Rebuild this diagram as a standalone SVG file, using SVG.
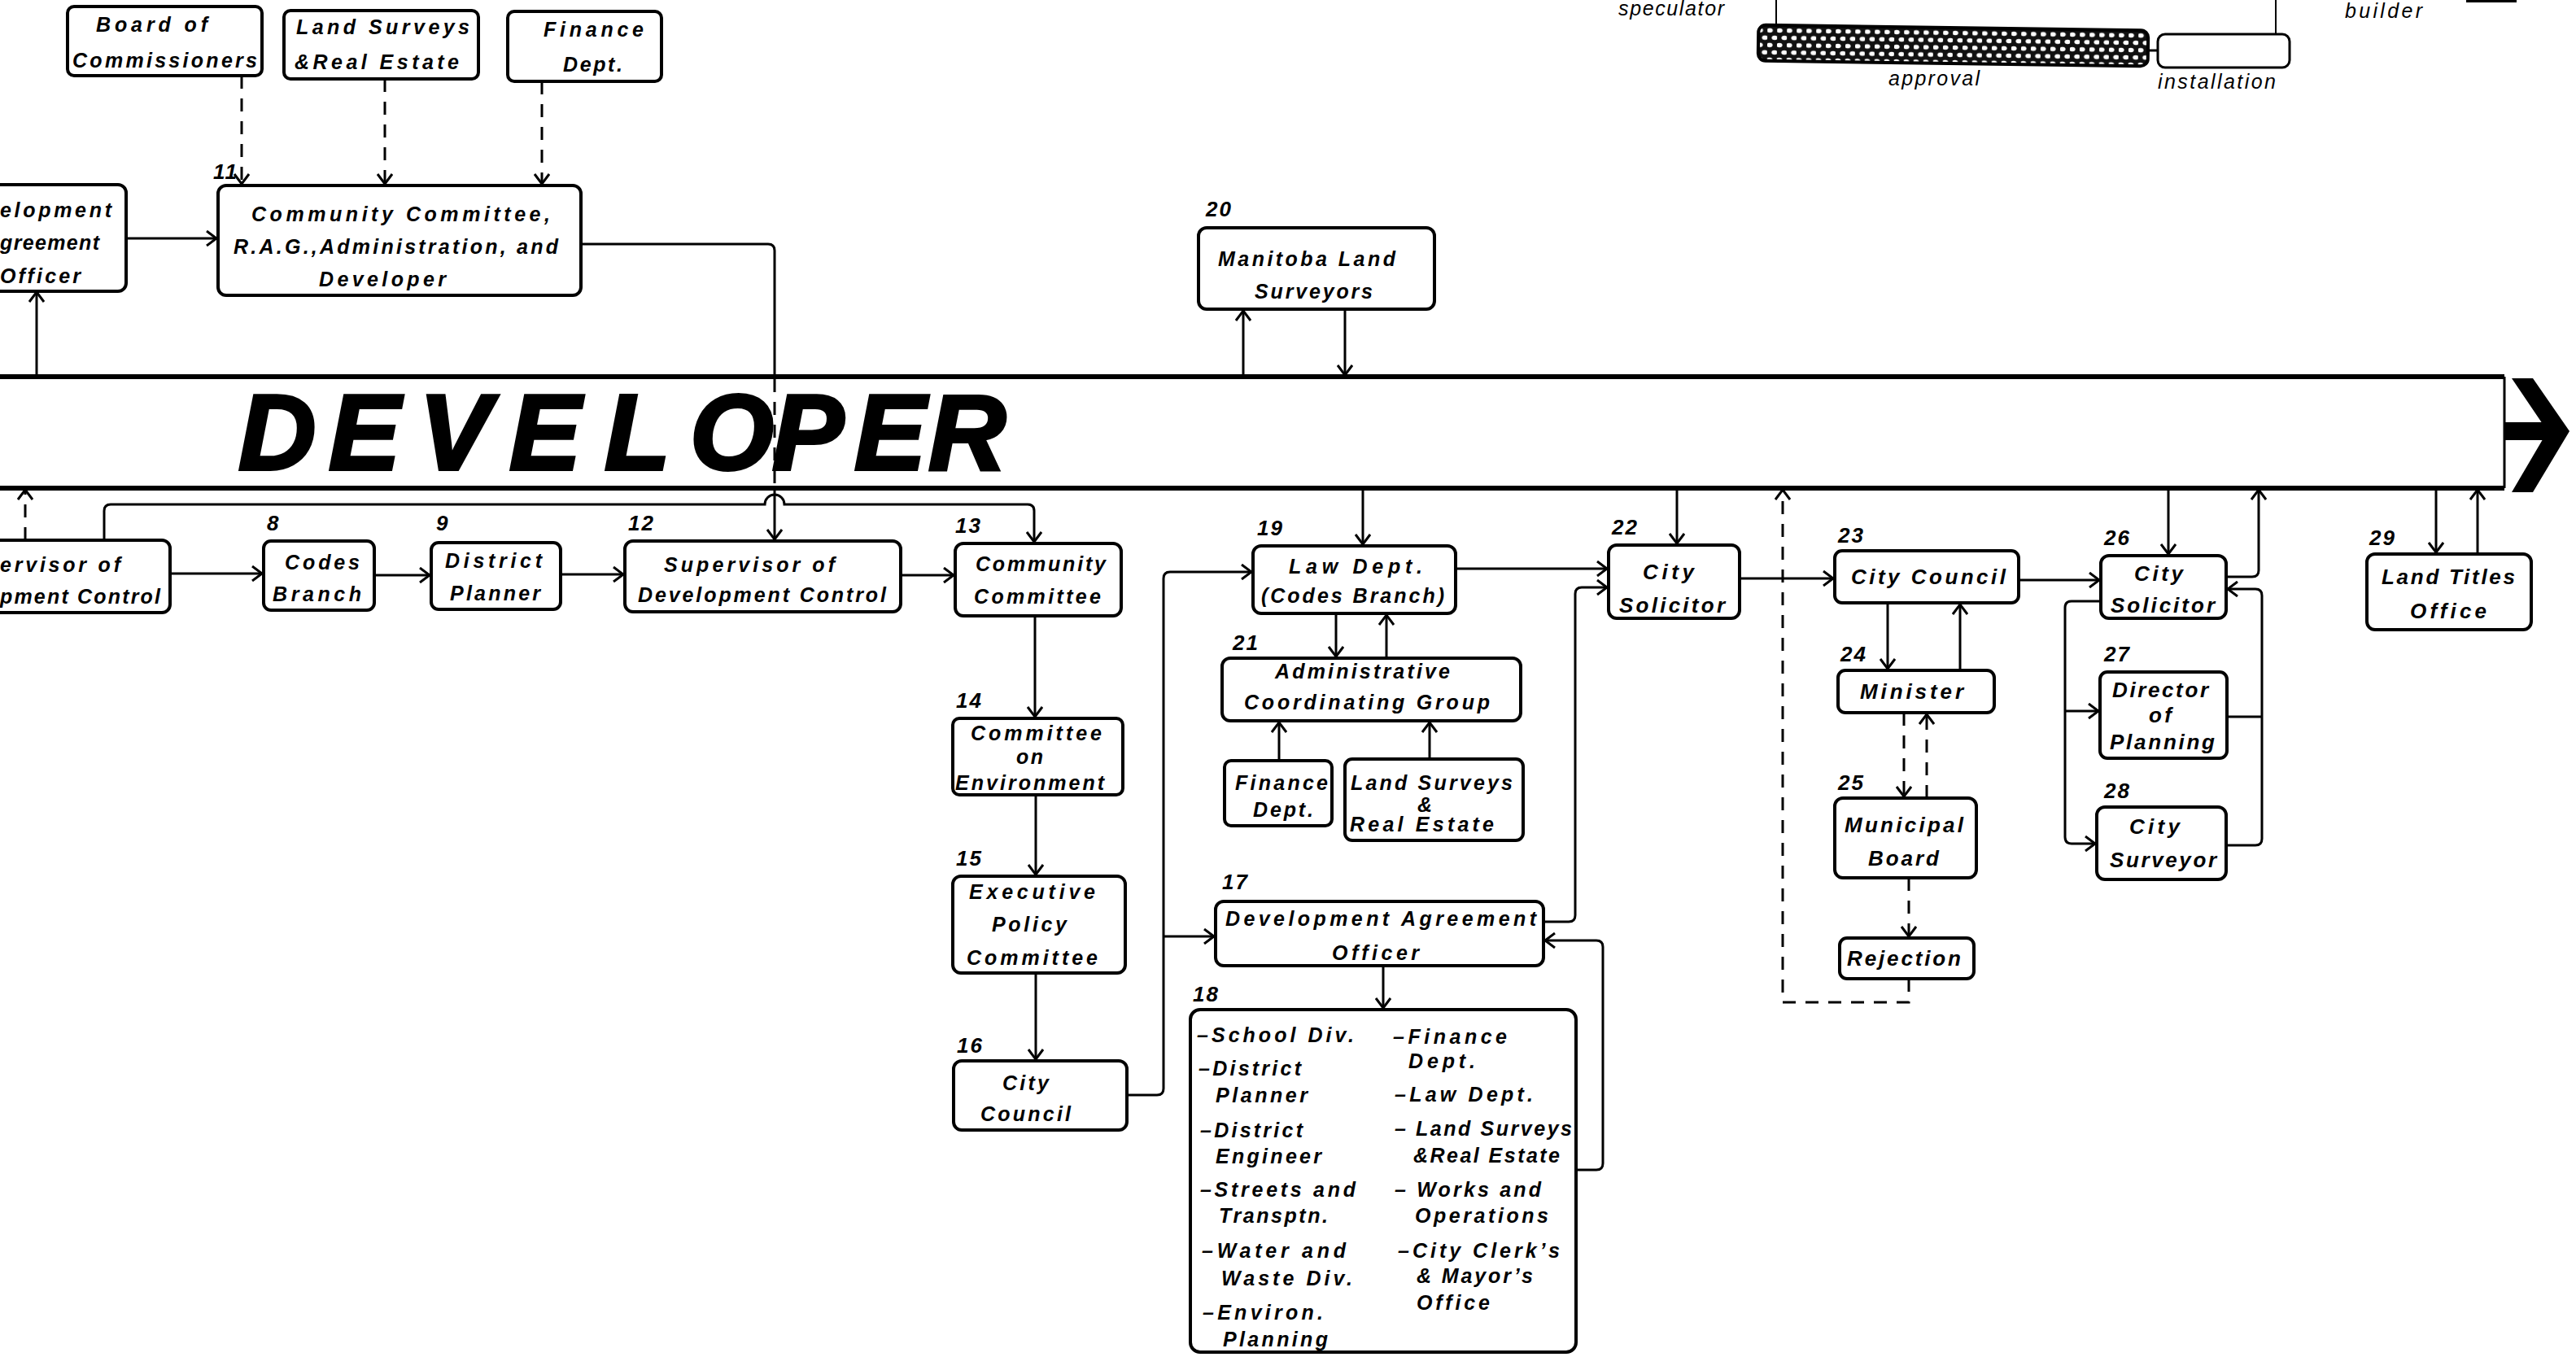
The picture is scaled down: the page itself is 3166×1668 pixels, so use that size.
<svg xmlns="http://www.w3.org/2000/svg" width="3166" height="1668" viewBox="0 0 3166 1668">
<style>
  .bx{fill:#fff;stroke:#000;stroke-width:4}
  .ln{fill:none;stroke:#000;stroke-width:3}
  .dsh{stroke-dasharray:16 12}
  .t{font-family:"Liberation Sans",Arial,sans-serif;font-style:italic;font-weight:bold;font-size:25px;fill:#000}
  .r{font-size:26px}
  .n{font-family:"Liberation Sans",Arial,sans-serif;font-style:italic;font-weight:bold;font-size:26px;letter-spacing:2px;fill:#000}
  .s{font-family:"Liberation Sans",Arial,sans-serif;font-style:italic;font-size:25px;fill:#000}
  .big{font-family:"Liberation Sans",Arial,sans-serif;font-style:italic;font-weight:bold;font-size:132px;fill:#000;stroke:#000;stroke-width:4}
</style>
<defs>
  <marker id="ah" viewBox="0 0 16 20" refX="13" refY="10" markerWidth="16" markerHeight="20" orient="auto" markerUnits="userSpaceOnUse">
    <path d="M1,1 L13,10 L1,19" fill="none" stroke="#000" stroke-width="3"/>
  </marker>
  <pattern id="dots" width="12" height="18" patternUnits="userSpaceOnUse">
    <rect width="12" height="18" fill="#111"/>
    <ellipse cx="3" cy="4.5" rx="3.6" ry="2.8" fill="#fff"/>
    <ellipse cx="9" cy="13.5" rx="3.6" ry="2.8" fill="#fff"/>
  </pattern>
</defs>
<rect width="3166" height="1668" fill="#fff"/>

<!-- timeline strip at the top right -->
<g id="timeline">
  <text class="s" x="1989" y="19" textLength="130">speculator</text>
  <line x1="2183" y1="0" x2="2183" y2="36" stroke="#000" stroke-width="2"/>
  <line x1="2797" y1="0" x2="2797" y2="43" stroke="#000" stroke-width="2"/>
  <rect x="2161" y="34" width="479" height="44" rx="9" fill="url(#dots)" stroke="#000" stroke-width="4" transform="rotate(0.8 2400 56)"/>
  <line x1="2640" y1="62" x2="2652" y2="62" stroke="#000" stroke-width="3"/>
  <rect x="2652" y="42" width="162" height="41" rx="9" fill="#fff" stroke="#000" stroke-width="3"/>
  <text class="s" x="2321" y="105" textLength="112">approval</text>
  <text class="s" x="2652" y="109" textLength="145">installation</text>
  <text class="s" x="2882" y="22" textLength="95">builder</text>
  <rect x="3031" y="0" width="62" height="3" fill="#000"/>
</g>

<!-- developer band -->
<g id="developer">
  <line x1="0" y1="463" x2="3078" y2="463" stroke="#000" stroke-width="6"/>
  <line x1="0" y1="600" x2="3078" y2="600" stroke="#000" stroke-width="6"/>
  <line x1="3078" y1="463" x2="3078" y2="600" stroke="#000" stroke-width="3"/>
  <rect x="3078" y="519" width="54" height="22" fill="#000"/>
  <polygon points="3087,465 3113,465 3158,530 3113,605 3087,605 3131,530" fill="#000"/>
  <text class="big" x="293 404 515 626 743 848 949 1050 1141" y="577">DEVELOPER</text>
</g>

<!-- connectors -->
<g id="connectors">
  <path class="ln dsh" d="M297,93 V226" marker-end="url(#ah)"/>
  <path class="ln dsh" d="M473,97 V226" marker-end="url(#ah)"/>
  <path class="ln dsh" d="M666,100 V226" marker-end="url(#ah)"/>
  <path class="ln" d="M155,293 H266" marker-end="url(#ah)"/>
  <path class="ln" d="M45,463 V359" marker-end="url(#ah)"/>
  <path class="ln" d="M714,300 H944 Q952,300 952,308 V463"/>
  <path class="ln dsh" d="M952,466 V598"/>
  <path class="ln" d="M952,600 V663" marker-end="url(#ah)"/>
  <path class="ln dsh" d="M31,664 V602" marker-end="url(#ah)"/>
  <path class="ln" d="M128,664 V628 Q128,620 136,620 H940 A12,12 0 0 1 964,620 H1263 Q1271,620 1271,628 V666" marker-end="url(#ah)"/>
  <path class="ln" d="M209,705 H322" marker-end="url(#ah)"/>
  <path class="ln" d="M460,707 H528" marker-end="url(#ah)"/>
  <path class="ln" d="M689,706 H766" marker-end="url(#ah)"/>
  <path class="ln" d="M1107,707 H1172" marker-end="url(#ah)"/>
  <path class="ln" d="M1272,757 V881" marker-end="url(#ah)"/>
  <path class="ln" d="M1273,977 V1075" marker-end="url(#ah)"/>
  <path class="ln" d="M1273,1196 V1302" marker-end="url(#ah)"/>
  <path class="ln" d="M1385,1346 H1422 Q1430,1346 1430,1338 V711 Q1430,703 1438,703 H1538" marker-end="url(#ah)"/>
  <path class="ln" d="M1430,1151 H1492" marker-end="url(#ah)"/>
  <path class="ln" d="M1528,463 V382" marker-end="url(#ah)"/>
  <path class="ln" d="M1653,380 V461" marker-end="url(#ah)"/>
  <path class="ln" d="M1675,600 V669" marker-end="url(#ah)"/>
  <path class="ln" d="M1642,754 V807" marker-end="url(#ah)"/>
  <path class="ln" d="M1704,809 V756" marker-end="url(#ah)"/>
  <path class="ln" d="M1572,935 V888" marker-end="url(#ah)"/>
  <path class="ln" d="M1757,933 V888" marker-end="url(#ah)"/>
  <path class="ln" d="M1789,699 H1975" marker-end="url(#ah)"/>
  <path class="ln" d="M1897,1133 H1928 Q1936,1133 1936,1125 V730 Q1936,722 1944,722 H1975" marker-end="url(#ah)"/>
  <path class="ln" d="M1700,1187 V1239" marker-end="url(#ah)"/>
  <path class="ln" d="M1937,1438 H1962 Q1970,1438 1970,1430 V1164 Q1970,1156 1962,1156 H1899" marker-end="url(#ah)"/>
  <path class="ln" d="M2061,600 V668" marker-end="url(#ah)"/>
  <path class="ln" d="M2138,711 H2253" marker-end="url(#ah)"/>
  <path class="ln" d="M2320,741 V822" marker-end="url(#ah)"/>
  <path class="ln" d="M2409,824 V743" marker-end="url(#ah)"/>
  <path class="ln dsh" d="M2340,876 V979" marker-end="url(#ah)"/>
  <path class="ln dsh" d="M2368,981 V878" marker-end="url(#ah)"/>
  <path class="ln dsh" d="M2346,1079 V1151" marker-end="url(#ah)"/>
  <path class="ln dsh" d="M2346,1203 V1232 H2191 V602" marker-end="url(#ah)"/>
  <path class="ln" d="M2481,713 H2580" marker-end="url(#ah)"/>
  <path class="ln" d="M2665,600 V681" marker-end="url(#ah)"/>
  <path class="ln" d="M2736,709 H2768 Q2776,709 2776,701 V602" marker-end="url(#ah)"/>
  <path class="ln" d="M2582,739 H2546 Q2538,739 2538,747 V1029 Q2538,1037 2546,1037 H2575" marker-end="url(#ah)"/>
  <path class="ln" d="M2538,874 H2579" marker-end="url(#ah)"/>
  <path class="ln" d="M2736,1039 H2772 Q2780,1039 2780,1031 V732 Q2780,724 2772,724 H2738" marker-end="url(#ah)"/>
  <path class="ln" d="M2737,881 H2780"/>
  <path class="ln" d="M2994,600 V679" marker-end="url(#ah)"/>
  <path class="ln" d="M3045,681 V602" marker-end="url(#ah)"/>
</g>

<!-- upper offices -->
<g id="n-board">
  <rect class="bx" x="83" y="8" width="239" height="85" rx="8"/>
  <text class="t" x="118" y="39" textLength="137">Board of</text>
  <text class="t" x="89" y="83" textLength="227">Commissioners</text>
</g>
<g id="n-landsurveys-top">
  <rect class="bx" x="349" y="13" width="239" height="84" rx="8"/>
  <text class="t" x="364" y="42" textLength="213">Land Surveys</text>
  <text class="t" x="362" y="85" textLength="202">&amp;Real Estate</text>
</g>
<g id="n-finance-top">
  <rect class="bx" x="624" y="14" width="189" height="86" rx="8"/>
  <text class="t" x="668" y="45" textLength="123">Finance</text>
  <text class="t" x="692" y="88" textLength="73">Dept.</text>
</g>
<g id="n11">
  <text class="n" x="262" y="220">11</text>
  <rect class="bx" x="268" y="228" width="446" height="135" rx="10"/>
  <text class="t" x="309" y="272" textLength="367">Community Committee,</text>
  <text class="t" x="287" y="312" textLength="399">R.A.G.,Administration, and</text>
  <text class="t" x="392" y="352" textLength="156">Developer</text>
</g>
<g id="n-dao-left">
  <rect class="bx" x="-12" y="227" width="167" height="131" rx="10"/>
  <text class="t" x="0" y="267" textLength="137">elopment</text>
  <text class="t" x="0" y="307" textLength="122">greement</text>
  <text class="t" x="0" y="348" textLength="99">Officer</text>
</g>
<g id="n20">
  <text class="n" x="1482" y="266">20</text>
  <rect class="bx" x="1473" y="280" width="290" height="100" rx="10"/>
  <text class="t" x="1497" y="327" textLength="218">Manitoba Land</text>
  <text class="t" x="1542" y="367" textLength="145">Surveyors</text>
</g>

<!-- lower chain -->
<g id="n-sup-left">
  <rect class="bx" x="-12" y="664" width="221" height="89" rx="10"/>
  <text class="t" x="0" y="703" textLength="148">ervisor of</text>
  <text class="t" x="0" y="742" textLength="197">pment Control</text>
</g>
<g id="n8">
  <text class="n" x="328" y="652">8</text>
  <rect class="bx" x="324" y="665" width="136" height="85" rx="9"/>
  <text class="t" x="350" y="700" textLength="92">Codes</text>
  <text class="t" x="335" y="739" textLength="109">Branch</text>
</g>
<g id="n9">
  <text class="n" x="536" y="652">9</text>
  <rect class="bx" x="530" y="667" width="159" height="82" rx="9"/>
  <text class="t" x="547" y="698" textLength="119">District</text>
  <text class="t" x="553" y="738" textLength="111">Planner</text>
</g>
<g id="n12">
  <text class="n" x="772" y="652">12</text>
  <rect class="bx" x="768" y="665" width="339" height="87" rx="10"/>
  <text class="t" x="816" y="703" textLength="210">Supervisor of</text>
  <text class="t" x="784" y="740" textLength="305">Development Control</text>
</g>
<g id="n13">
  <text class="n" x="1174" y="655">13</text>
  <rect class="bx" x="1174" y="668" width="204" height="89" rx="10"/>
  <text class="t" x="1199" y="702" textLength="160">Community</text>
  <text class="t" x="1197" y="742" textLength="156">Committee</text>
</g>
<g id="n14">
  <text class="n" x="1175" y="870">14</text>
  <rect class="bx" x="1171" y="883" width="209" height="94" rx="8"/>
  <text class="t" x="1193" y="910" textLength="161">Committee</text>
  <text class="t" x="1249" y="939" textLength="33">on</text>
  <text class="t" x="1174" y="971" textLength="183">Environment</text>
</g>
<g id="n15">
  <text class="n" x="1175" y="1064">15</text>
  <rect class="bx" x="1171" y="1077" width="212" height="119" rx="10"/>
  <text class="t" x="1191" y="1105" textLength="155">Executive</text>
  <text class="t" x="1219" y="1145" textLength="92">Policy</text>
  <text class="t" x="1188" y="1186" textLength="161">Committee</text>
</g>
<g id="n16">
  <text class="n" x="1176" y="1294">16</text>
  <rect class="bx" x="1172" y="1304" width="213" height="85" rx="10"/>
  <text class="t" x="1232" y="1340" textLength="57">City</text>
  <text class="t" x="1205" y="1378" textLength="111">Council</text>
</g>

<!-- law and agreement group -->
<g id="n19">
  <text class="n" x="1545" y="658">19</text>
  <rect class="bx" x="1540" y="671" width="249" height="83" rx="10"/>
  <text class="t" x="1584" y="705" textLength="164">Law   Dept.</text>
  <text class="t" x="1550" y="741" textLength="225">(Codes Branch)</text>
</g>
<g id="n21">
  <text class="n" x="1515" y="799">21</text>
  <rect class="bx" x="1502" y="809" width="367" height="77" rx="10"/>
  <text class="t" x="1567" y="834" textLength="215">Administrative</text>
  <text class="t" x="1529" y="872" textLength="302">Coordinating Group</text>
</g>
<g id="n-finance-small">
  <rect class="bx" x="1505" y="935" width="132" height="80" rx="8"/>
  <text class="t" x="1518" y="971" textLength="114">Finance</text>
  <text class="t" x="1540" y="1004" textLength="74">Dept.</text>
</g>
<g id="n-landsurveys-small">
  <rect class="bx" x="1653" y="933" width="219" height="100" rx="9"/>
  <text class="t" x="1660" y="971" textLength="199">Land Surveys</text>
  <text class="t" x="1742" y="998">&amp;</text>
  <text class="t" x="1659" y="1022" textLength="177">Real  Estate</text>
</g>
<g id="n17">
  <text class="n" x="1502" y="1093">17</text>
  <rect class="bx" x="1494" y="1108" width="403" height="79" rx="10"/>
  <text class="t" x="1506" y="1138" textLength="382">Development  Agreement</text>
  <text class="t" x="1637" y="1180" textLength="107">Officer</text>
</g>
<g id="n18">
  <text class="n" x="1466" y="1231">18</text>
  <rect class="bx" x="1463" y="1241" width="474" height="421" rx="12"/>
  <text class="t" x="1471" y="1281" textLength="193">–School Div.</text>
  <text class="t" x="1473" y="1322" textLength="126">–District</text>
  <text class="t" x="1494" y="1355" textLength="113">Planner</text>
  <text class="t" x="1475" y="1398" textLength="126">–District</text>
  <text class="t" x="1494" y="1430" textLength="130">Engineer</text>
  <text class="t" x="1475" y="1471" textLength="191">–Streets and</text>
  <text class="t" x="1498" y="1503" textLength="134">Transptn.</text>
  <text class="t" x="1477" y="1546" textLength="177">–Water  and</text>
  <text class="t" x="1501" y="1580" textLength="161">Waste  Div.</text>
  <text class="t" x="1478" y="1622" textLength="148">–Environ.</text>
  <text class="t" x="1503" y="1655" textLength="129">Planning</text>
  <text class="t" x="1712" y="1283" textLength="140">–Finance</text>
  <text class="t" x="1731" y="1313" textLength="82">Dept.</text>
  <text class="t" x="1714" y="1354" textLength="170">–Law  Dept.</text>
  <text class="t" x="1714" y="1396" textLength="218">– Land Surveys</text>
  <text class="t" x="1737" y="1429" textLength="180">&amp;Real Estate</text>
  <text class="t" x="1714" y="1471" textLength="180">– Works  and</text>
  <text class="t" x="1739" y="1503" textLength="164">Operations</text>
  <text class="t" x="1718" y="1546" textLength="199">–City Clerk’s</text>
  <text class="t" x="1741" y="1577" textLength="143">&amp; Mayor’s</text>
  <text class="t" x="1741" y="1610" textLength="90">Office</text>
</g>

<!-- council and approval offices -->
<g id="n22">
  <text class="n" x="1981" y="657">22</text>
  <rect class="bx" x="1977" y="670" width="161" height="90" rx="10"/>
  <text class="t r" x="2019" y="712" textLength="63">City</text>
  <text class="t r" x="1990" y="753" textLength="130">Solicitor</text>
</g>
<g id="n23">
  <text class="n" x="2259" y="667">23</text>
  <rect class="bx" x="2255" y="677" width="226" height="64" rx="9"/>
  <text class="t r" x="2275" y="718" textLength="190">City Council</text>
</g>
<g id="n24">
  <text class="n" x="2262" y="813">24</text>
  <rect class="bx" x="2259" y="824" width="192" height="52" rx="9"/>
  <text class="t r" x="2286" y="859" textLength="127">Minister</text>
</g>
<g id="n25">
  <text class="n" x="2259" y="971">25</text>
  <rect class="bx" x="2255" y="981" width="174" height="98" rx="10"/>
  <text class="t r" x="2267" y="1023" textLength="146">Municipal</text>
  <text class="t r" x="2296" y="1064" textLength="87">Board</text>
</g>
<g id="n-rejection">
  <rect class="bx" x="2261" y="1153" width="165" height="50" rx="9"/>
  <text class="t r" x="2270" y="1187" textLength="140">Rejection</text>
</g>
<g id="n26">
  <text class="n" x="2586" y="670">26</text>
  <rect class="bx" x="2582" y="683" width="154" height="77" rx="10"/>
  <text class="t r" x="2623" y="714" textLength="60">City</text>
  <text class="t r" x="2594" y="753" textLength="128">Solicitor</text>
</g>
<g id="n27">
  <text class="n" x="2586" y="813">27</text>
  <rect class="bx" x="2581" y="826" width="156" height="106" rx="9"/>
  <text class="t r" x="2596" y="857" textLength="118">Director</text>
  <text class="t r" x="2641" y="888" textLength="28">of</text>
  <text class="t r" x="2593" y="921" textLength="129">Planning</text>
</g>
<g id="n28">
  <text class="n" x="2586" y="981">28</text>
  <rect class="bx" x="2577" y="992" width="159" height="89" rx="10"/>
  <text class="t r" x="2617" y="1025" textLength="62">City</text>
  <text class="t r" x="2593" y="1066" textLength="131">Surveyor</text>
</g>
<g id="n29">
  <text class="n" x="2912" y="670">29</text>
  <rect class="bx" x="2909" y="681" width="202" height="93" rx="10"/>
  <text class="t r" x="2927" y="718" textLength="164">Land Titles</text>
  <text class="t r" x="2962" y="760" textLength="94">Office</text>
</g>
</svg>
